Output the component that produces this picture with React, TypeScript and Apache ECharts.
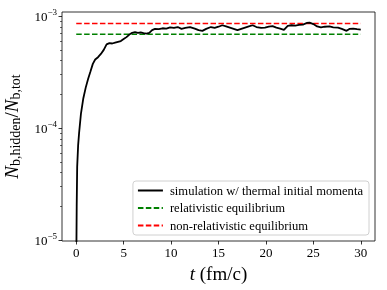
import React, { useEffect, useRef } from "react";
import * as echarts from "echarts";

const tValues = [
  0, 0.05, 0.1, 0.2, 0.3, 0.5, 0.75, 1.0, 1.25, 1.5, 1.75, 2.0, 2.3, 2.6, 2.9, 3.2, 3.5, 3.8, 4.1, 4.4,
  4.7, 5.0, 5.3, 5.6, 5.9, 6.2, 6.5, 6.8, 7.1, 7.4, 7.7, 8.0, 8.3, 8.7, 9.1, 9.5, 9.9, 10.3, 10.7, 11.1,
  11.5, 12.0, 12.5, 12.9, 13.3, 13.7, 14.2, 14.6, 15.0, 15.4, 15.8, 16.2, 16.6, 17.0, 17.4, 17.8, 18.2,
  18.6, 19.0, 19.5, 19.9, 20.3, 20.7, 21.1, 21.5, 21.9, 22.3, 22.7, 23.1, 23.5, 23.9, 24.3, 24.6, 25.0,
  25.4, 25.8, 26.2, 26.7, 27.1, 27.6, 28.0, 28.5, 28.8, 29.2, 29.6, 30.0,
];
// simulation values in units of 1e-4
const simValues = [
  0.05, 0.2, 0.45, 0.7, 0.9, 1.35, 1.85, 2.3, 2.75, 3.2, 3.75, 4.1, 4.3, 4.6, 5.0, 5.6, 5.75, 5.7, 5.8, 5.9,
  6.0, 6.25, 6.5, 6.85, 7.1, 7.2, 7.1, 7.15, 7.05, 7.0, 7.1, 7.5, 7.7, 7.65, 7.8, 7.75, 7.95, 7.85, 8.0, 7.7,
  7.85, 8.0, 7.75, 7.5, 7.4, 7.7, 8.0, 7.85, 8.05, 8.3, 8.1, 7.9, 7.7, 7.5, 7.7, 7.9, 8.1,
  8.3, 8.0, 7.85, 7.9, 8.05, 8.15, 7.9, 7.75, 7.55, 8.2, 8.3, 8.25, 8.35, 8.4, 8.7, 8.75, 8.5,
  8.1, 7.95, 8.05, 8.1, 7.95, 7.9, 7.7, 7.4, 7.7, 7.75, 7.65, 7.6,
];
const relEq = 6.9e-4;
const nonRelEq = 8.6e-4;
const eqRange = [0, 30];
const xTicks = [0, 5, 10, 15, 20, 25, 30];
const yMajorTicks = [1e-5, 1e-4, 1e-3];
const yMinorTicks = [2e-5, 3e-5, 4e-5, 5e-5, 6e-5, 7e-5, 8e-5, 9e-5, 2e-4, 3e-4, 4e-4, 5e-4, 6e-4, 7e-4, 8e-4, 9e-4];
const seriesNames = [
  "simulation w/ thermal initial momenta",
  "relativistic equilibrium",
  "non-relativistic equilibrium",
];

const FONT = "Liberation Serif";

export default function App() {
  const ref = useRef<HTMLDivElement>(null);
  useEffect(() => {
    if (!ref.current) return;
    const chart = echarts.init(ref.current, undefined, { renderer: "svg" });
    const simData = tValues.map((t, i) => [t, simValues[i] * 1e-4]);
    const relData = eqRange.map((t) => [t, relEq]);
    const nonRelData = eqRange.map((t) => [t, nonRelEq]);
    chart.setOption({
      animation: false,
      textStyle: { fontFamily: FONT },
      grid: {
        left: 62,
        right: 12,
        top: 12,
        bottom: 49,
        containLabel: false,
        outerBoundsMode: "none",
        show: true,
        borderColor: "#000",
        borderWidth: 0.8,
        backgroundColor: "transparent",
      },
      legend: {
        orient: "vertical",
        right: 18,
        bottom: 55,
        itemWidth: 25,
        itemHeight: 10,
        itemGap: 4.5,
        padding: [3, 6, 3, 4],
        borderColor: "#d0d0d0",
        borderWidth: 1,
        borderRadius: 3,
        backgroundColor: "rgba(255,255,255,0.8)",
        itemStyle: { opacity: 0 },
        textStyle: { fontFamily: FONT, fontSize: 12.6, lineHeight: 13, color: "#000", padding: [0, 0, 0, 2] },
        data: seriesNames,
      },
      xAxis: {
        type: "value",
        min: -1.5,
        max: 31.5,
        splitLine: { show: false },
        axisLine: { show: false, onZero: false },
        axisTick: { show: true, length: 3.5, lineStyle: { color: "#000", width: 0.8 }, customValues: xTicks },
        axisLabel: {
          customValues: xTicks,
          color: "#000",
          fontSize: 13,
          fontFamily: FONT,
          margin: 5,
        },
        name: "{i|t} (fm/c)",
        nameLocation: "middle",
        nameGap: 23,
        nameTextStyle: {
          fontFamily: FONT,
          fontSize: 19,
          color: "#000",
          rich: { i: { fontStyle: "italic", fontFamily: FONT, fontSize: 19 } },
        },
      },
      yAxis: [
        {
          type: "log",
          logBase: 10,
          min: 0.98e-5,
          max: 1.09e-3,
          splitLine: { show: false },
          axisLine: { show: false, onZero: false },
          axisTick: { show: true, length: 3.5, lineStyle: { color: "#000", width: 0.8 }, customValues: yMajorTicks },
          axisLabel: {
            customValues: yMajorTicks,
            margin: 5,
            formatter: (v: number) => `{b|10}{s|−${Math.round(-Math.log10(v))}}`,
            rich: {
              b: { fontSize: 13, fontFamily: FONT, color: "#000", lineHeight: 17 },
              s: { fontSize: 9, fontFamily: FONT, color: "#000", lineHeight: 9, verticalAlign: "top" },
            },
          },
          name: "{i|N}{sub|b,hidden}{n|/}{i|N}{sub|b,tot}",
          nameLocation: "middle",
          nameGap: 40,
          nameTextStyle: {
            color: "#000",
            rich: {
              i: { fontStyle: "italic", fontFamily: FONT, fontSize: 19, lineHeight: 22, color: "#000" },
              n: { fontFamily: FONT, fontSize: 19, lineHeight: 22, color: "#000" },
              sub: { fontFamily: FONT, fontSize: 14, lineHeight: 12, verticalAlign: "bottom", color: "#000" },
            },
          },
        },
        {
          type: "log",
          logBase: 10,
          min: 0.98e-5,
          max: 1.09e-3,
          position: "left",
          splitLine: { show: false },
          axisLine: { show: false, onZero: false },
          axisLabel: { show: false },
          axisTick: { show: true, length: 2, lineStyle: { color: "#000", width: 0.6 }, customValues: yMinorTicks },
        },
      ],
      series: [
        {
          name: seriesNames[0],
          type: "line",
          data: simData,
          showSymbol: false,
          symbol: "none",
          clip: true,
          lineStyle: { color: "#000", width: 1.8 },
          itemStyle: { color: "#000" },
          z: 3,
        },
        {
          name: seriesNames[1],
          type: "line",
          data: relData,
          symbol: "none",
          lineStyle: { color: "#008000", width: 1.5, type: [5.5, 2.4] },
          itemStyle: { color: "#008000" },
          z: 2,
        },
        {
          name: seriesNames[2],
          type: "line",
          data: nonRelData,
          symbol: "none",
          lineStyle: { color: "#ff0000", width: 1.5, type: [5.5, 2.4] },
          itemStyle: { color: "#ff0000" },
          z: 2,
        },
      ],
    });
    return () => chart.dispose();
  }, []);
  return <div ref={ref} style={{ position: "fixed", left: 0, top: 0, width: 387, height: 290 }} />;
}
